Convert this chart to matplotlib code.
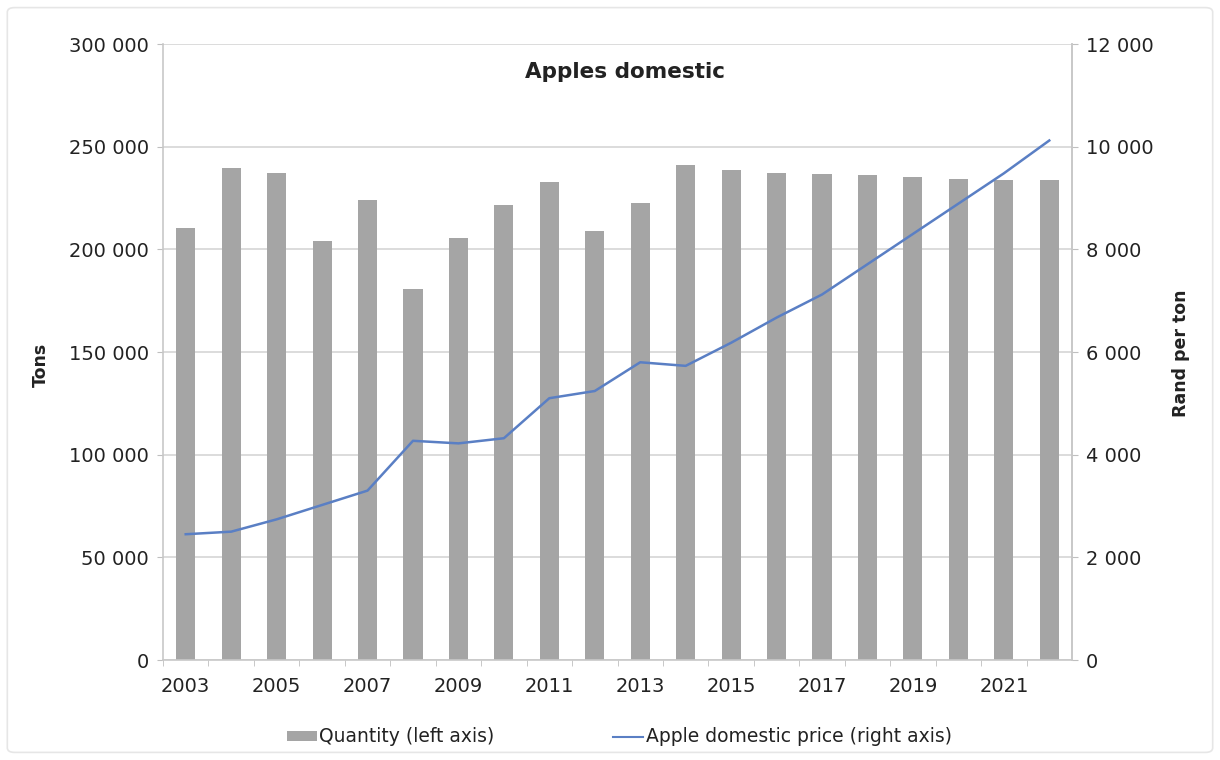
import matplotlib
matplotlib.use("Agg")
import matplotlib.pyplot as plt
from matplotlib.ticker import FuncFormatter, FixedLocator
from matplotlib.lines import Line2D
from matplotlib.patches import Patch, FancyBboxPatch

plt.rcParams['font.family'] = ['DejaVu Sans']

years = list(range(2003, 2023))
quantity_tons = [210400, 239600, 237000, 204000, 223800, 180700, 205700, 221400, 232600, 208700,
                 222700, 241300, 238700, 237000, 236500, 236100, 235200, 234400, 233800, 233900]
price_rand_per_ton = [2450, 2500, 2740, 3020, 3300, 4270, 4220, 4320, 5100, 5240,
                      5800, 5730, 6180, 6670, 7120, 7710, 8300, 8890, 9480, 10120]

bar_color = '#a5a5a5'
line_color = '#5a7fc4'
grid_color = '#d9d9d9'
text_color = '#222222'
tick_size = 14

fig = plt.figure(figsize=(12.2, 7.6), dpi=100)
fig.patch.set_facecolor('white')

# light frame around the chart
frame = FancyBboxPatch((0.006, 0.010), 0.988, 0.980, boxstyle="round,pad=0,rounding_size=0.006",
                       transform=fig.transFigure, facecolor='white', edgecolor='#e6e6e6',
                       linewidth=1.2, zorder=-10)
fig.patches.append(frame)

ax = fig.add_axes([163 / 1220, 100 / 760, 909 / 1220, 616 / 760])
x = list(range(len(years)))
ax.bar(x, quantity_tons, width=0.42, color=bar_color, zorder=2)
ax.set_xlim(-0.5, len(years) - 0.5)
ax.set_ylim(0, 300000)
ax.set_yticks(range(0, 300001, 50000))

def space_thousands(v, pos):
    return f"{int(round(v)):,}".replace(",", " ")

ax.yaxis.set_major_formatter(FuncFormatter(space_thousands))
ax.grid(axis='y', color=grid_color, linewidth=1.3, zorder=0)
ax.set_axisbelow(True)

# category labels every second year, ticks between categories
ax.set_xticks(x[::2])
ax.set_xticklabels([str(y) for y in years[::2]])
ax.xaxis.set_minor_locator(FixedLocator([i + 0.5 for i in x[:-1]] + [-0.5]))
ax.tick_params(axis='x', which='major', length=0, pad=12, labelsize=tick_size, colors=text_color)
ax.tick_params(axis='x', which='minor', length=4, color='#bfbfbf')
ax.tick_params(axis='y', length=4, color='#bfbfbf', labelsize=tick_size, colors=text_color, pad=6)
ax.spines['top'].set_visible(False)
for side in ['left', 'bottom', 'right']:
    ax.spines[side].set_color('#c8c8c8')
    ax.spines[side].set_linewidth(1.2)
ax.set_ylabel('Tons', fontsize=12.5, fontweight='bold', color=text_color)
ax.yaxis.set_label_coords(-0.124, 0.479)

ax2 = ax.twinx()
ax2.plot(x, price_rand_per_ton, color=line_color, linewidth=1.8, zorder=3)
ax2.set_ylim(0, 12000)
ax2.set_yticks(range(0, 12001, 2000))
ax2.yaxis.set_major_formatter(FuncFormatter(space_thousands))
ax2.tick_params(axis='y', length=4, color='#bfbfbf', labelsize=tick_size, colors=text_color, pad=6)
for side in ['top', 'left', 'bottom']:
    ax2.spines[side].set_visible(False)
ax2.spines['right'].set_color('#c8c8c8')
ax2.spines['right'].set_linewidth(1.2)
ax2.set_ylabel('Rand per ton', fontsize=12.5, fontweight='bold', color=text_color)
ax2.yaxis.set_label_coords(1.110, 0.498)

ax.text(0.508, 0.955, 'Apples domestic', transform=ax.transAxes, ha='center', va='center',
        fontsize=15.5, fontweight='bold', color=text_color)

handles = [Patch(facecolor=bar_color, edgecolor='none'),
           Line2D([0], [0], color=line_color, linewidth=1.5)]
fig.legend(handles, ['Quantity (left axis)', 'Apple domestic price (right axis)'],
           loc='center', bbox_to_anchor=(619 / 1220, 1 - 737 / 760), ncol=2, frameon=False,
           fontsize=13.5, handlelength=1.6, handleheight=0.45, columnspacing=6.3,
           handletextpad=0.15, labelcolor=text_color)

fig.savefig('out.png', dpi=100, facecolor='white')
